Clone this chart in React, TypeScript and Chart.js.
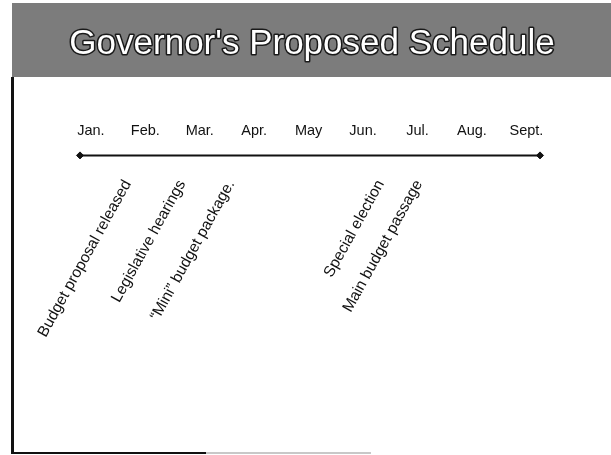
import React, { useEffect, useRef } from "react";
import { Chart, registerables } from "chart.js";

Chart.register(...registerables);

const TITLE = "Governor's Proposed Schedule";
const MONTHS = ["Jan.", "Feb.", "Mar.", "Apr.", "May", "Jun.", "Jul.", "Aug.", "Sept."];
// timeline extends a little before January and after September (month index units)
const TIMELINE_START = -0.2;
const TIMELINE_END = 8.25;
const EVENT_LABELS = [
  "Budget proposal released",
  "Legislative hearings",
  "\u201CMini\u201D budget package.",
  "Special election",
  "Main budget passage",
];
const EVENT_MONTHS = [0.1, 1.1, 2.0, 4.75, 5.45];

const FONT = "'Liberation Sans', Arial, Helvetica, sans-serif";

const slidePlugin = {
  id: "slide",
  beforeDraw(chart: any) {
    const ctx = chart.ctx;
    ctx.save();
    ctx.fillStyle = "#ffffff";
    ctx.fillRect(0, 0, chart.width, chart.height);
    // header band
    ctx.fillStyle = "#7c7c7c";
    ctx.fillRect(12, 3, chart.width - 12, 74);
    // frame lines
    ctx.fillStyle = "#111111";
    ctx.fillRect(11, 77, 3, 377);
    ctx.fillRect(11, 452, 195, 2);
    ctx.fillStyle = "#c8c8c8";
    ctx.fillRect(206, 452, 165, 2);
    // title
    ctx.font = `35px ${FONT}`;
    ctx.textAlign = "center";
    ctx.textBaseline = "alphabetic";
    ctx.lineJoin = "round";
    ctx.lineWidth = 3;
    ctx.strokeStyle = "#1a1a1a";
    ctx.strokeText(TITLE, 312, 54);
    ctx.fillStyle = "#ffffff";
    ctx.fillText(TITLE, 312, 54);
    ctx.restore();
  },
};

const eventPlugin = {
  id: "events",
  afterDatasetsDraw(chart: any) {
    const ctx = chart.ctx;
    const xs = chart.scales.x;
    const ys = chart.scales.y;
    const lineY = ys.getPixelForValue(0);
    ctx.save();
    ctx.font = `15.5px ${FONT}`;
    ctx.fillStyle = "#111111";
    ctx.textAlign = "right";
    ctx.textBaseline = "alphabetic";
    EVENT_LABELS.forEach((label, i) => {
      const px = xs.getPixelForValue(EVENT_MONTHS[i]);
      ctx.save();
      ctx.translate(px + 35, lineY + 28);
      ctx.rotate((-61 * Math.PI) / 180);
      ctx.fillText(label, 0, 0);
      ctx.restore();
    });
    ctx.restore();
  },
};

export default function App() {
  const ref = useRef<HTMLCanvasElement>(null);

  useEffect(() => {
    if (!ref.current) return;
    const chart = new Chart(ref.current, {
      type: "line",
      data: {
        datasets: [
          {
            data: [
              { x: TIMELINE_START, y: 0 },
              { x: TIMELINE_END, y: 0 },
            ],
            borderColor: "#111111",
            backgroundColor: "#111111",
            borderWidth: 2,
            pointStyle: "rectRot",
            pointRadius: 3.5,
            pointBorderWidth: 1,
            clip: false as any,
          },
        ],
      },
      options: {
        animation: false,
        responsive: false,
        events: [],
        layout: { padding: { left: 80, right: 71, top: 106, bottom: 20 } },
        plugins: {
          legend: { display: false },
          title: { display: false },
          tooltip: { enabled: false },
        },
        scales: {
          x: {
            type: "linear",
            position: "top",
            min: TIMELINE_START,
            max: TIMELINE_END,
            grid: { display: false, drawTicks: false },
            border: { display: false },
            afterBuildTicks: (scale: any) => {
              scale.ticks = MONTHS.map((_, i) => ({ value: i }));
            },
            ticks: {
              padding: 16,
              color: "#111111",
              font: { family: FONT, size: 14.5 },
              maxRotation: 0,
              autoSkip: false,
              callback: (v: any) => MONTHS[Math.round(Number(v))] ?? "",
            },
          },
          y: {
            type: "linear",
            display: false,
            min: -1,
            max: 0,
          },
        },
      },
      plugins: [slidePlugin, eventPlugin],
    });
    return () => chart.destroy();
  }, []);

  return (
    <div style={{ position: "absolute", left: 0, top: 0, width: 611, height: 455 }}>
      <canvas ref={ref} width={611} height={455} style={{ display: "block" }} />
    </div>
  );
}
